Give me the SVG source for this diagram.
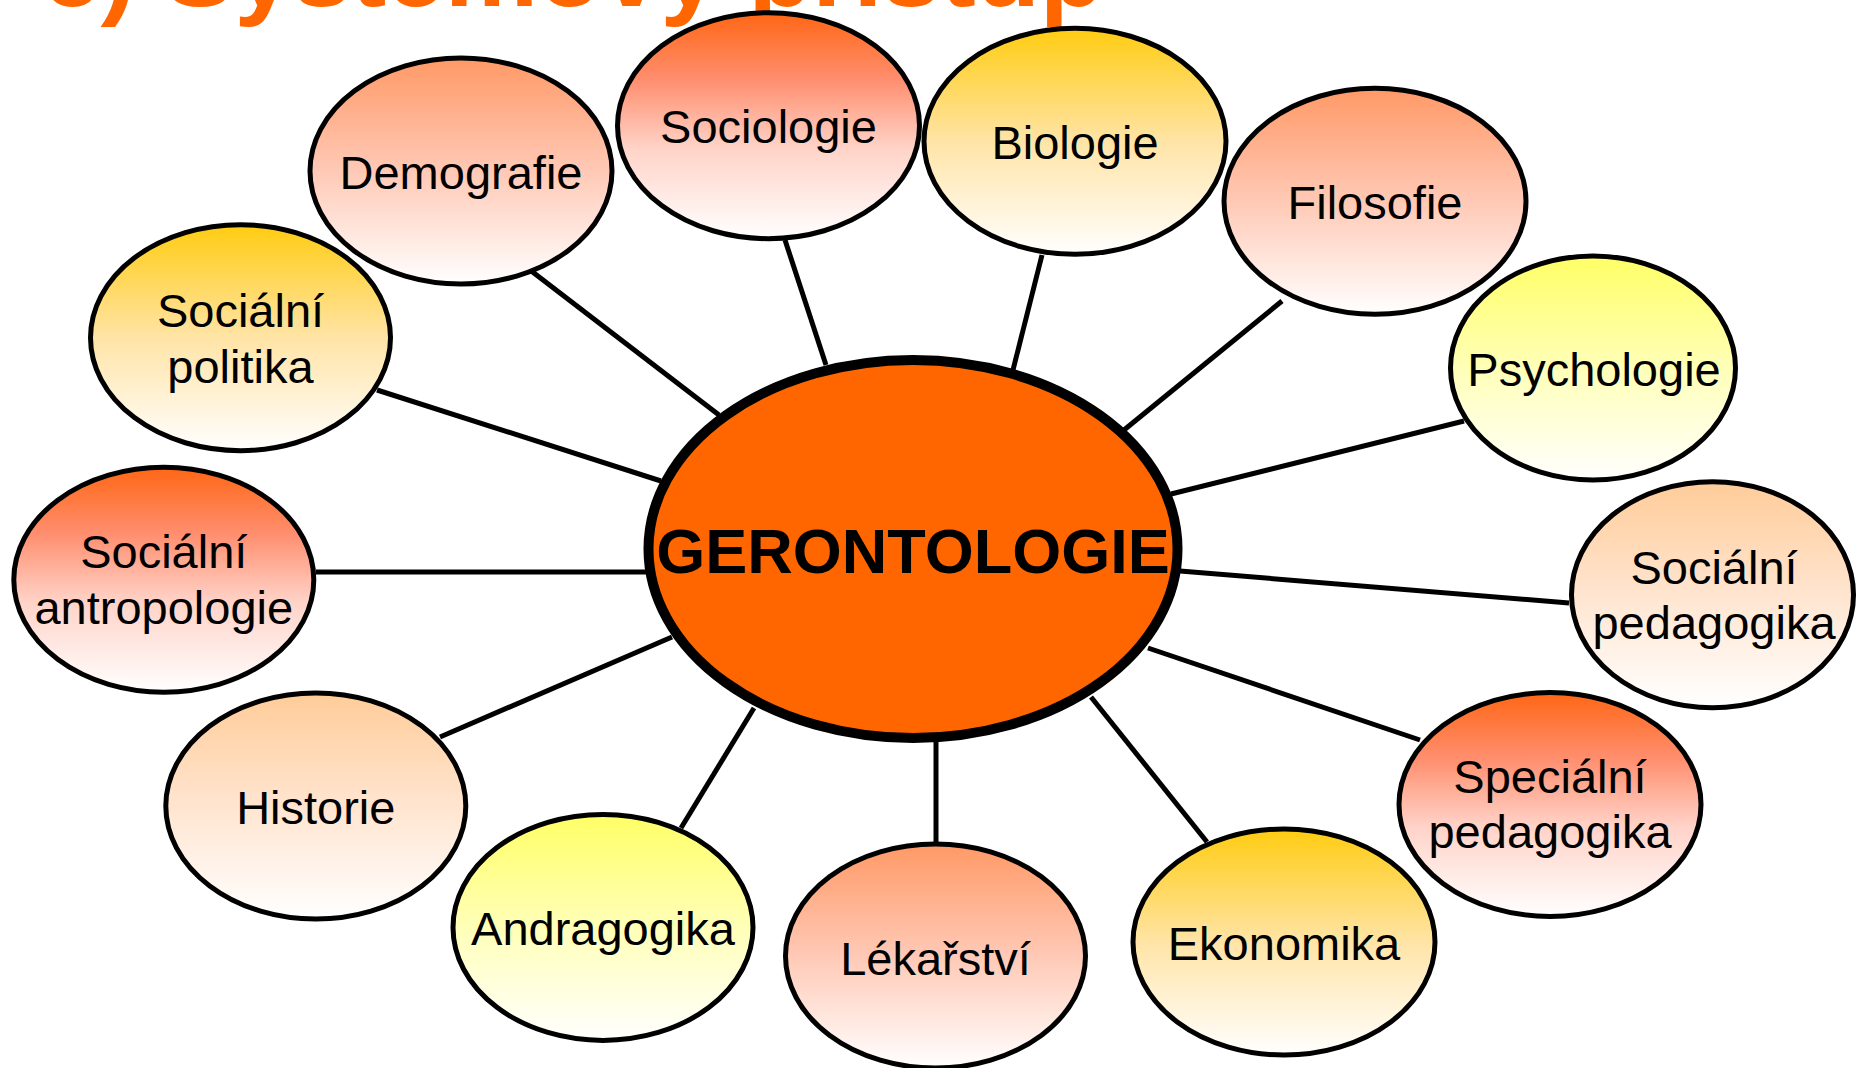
<svg xmlns="http://www.w3.org/2000/svg" width="1856" height="1068" viewBox="0 0 1856 1068">
<defs>
<linearGradient id="gRed" x1="0" y1="0" x2="0" y2="1">
<stop offset="0" stop-color="#FF6615"/><stop offset="0.3" stop-color="#FF8F70"/><stop offset="0.6" stop-color="#FFD3C8"/><stop offset="1" stop-color="#FFFFFF"/>
</linearGradient>
<linearGradient id="gSalmon" x1="0" y1="0" x2="0" y2="1">
<stop offset="0" stop-color="#FF9966"/><stop offset="0.5" stop-color="#FFC9B6"/><stop offset="1" stop-color="#FFFFFF"/>
</linearGradient>
<linearGradient id="gGold" x1="0" y1="0" x2="0" y2="1">
<stop offset="0" stop-color="#FFCC11"/><stop offset="0.5" stop-color="#FFE4A6"/><stop offset="1" stop-color="#FFFFFF"/>
</linearGradient>
<linearGradient id="gYellow" x1="0" y1="0" x2="0" y2="1">
<stop offset="0" stop-color="#FFFF66"/><stop offset="0.5" stop-color="#FFFFB8"/><stop offset="1" stop-color="#FFFFFF"/>
</linearGradient>
<linearGradient id="gPeach" x1="0" y1="0" x2="0" y2="1">
<stop offset="0" stop-color="#FFCC99"/><stop offset="0.5" stop-color="#FFE5D0"/><stop offset="1" stop-color="#FFFFFF"/>
</linearGradient>
</defs>
<style>
.node{stroke:#000;stroke-width:5}
.lbl{font-family:"Liberation Sans",Arial,sans-serif;font-size:47px;fill:#000;text-anchor:middle}
.conn line{stroke:#000;stroke-width:5}
.title{font-family:"Liberation Sans",Arial,sans-serif;font-weight:bold;font-size:100px;fill:#FF6600}
</style>
<text class="title" x="42" y="6" textLength="1062" lengthAdjust="spacingAndGlyphs">c) Systémový přístup</text>
<g id="connectors" class="conn">
<line x1="530" y1="270" x2="719" y2="415"/>
<line x1="785" y1="240" x2="826" y2="365"/>
<line x1="1042" y1="255" x2="1013" y2="370"/>
<line x1="1282" y1="301" x2="1124" y2="430"/>
<line x1="1464" y1="421" x2="1171" y2="494"/>
<line x1="1569" y1="603" x2="1180" y2="571"/>
<line x1="1420" y1="740" x2="1148" y2="648"/>
<line x1="1207" y1="842" x2="1091" y2="697"/>
<line x1="936" y1="843" x2="936" y2="740"/>
<line x1="681" y1="828" x2="754" y2="708"/>
<line x1="440" y1="737" x2="672" y2="637"/>
<line x1="316" y1="572" x2="646" y2="572"/>
<line x1="377" y1="390" x2="661" y2="481"/>
</g>
<g id="n-demografie"><ellipse class="node" cx="461" cy="171" rx="151" ry="113" fill="url(#gSalmon)"/><text class="lbl" x="461" y="189">Demografie</text></g>
<g id="n-sociologie"><ellipse class="node" cx="768.5" cy="125.7" rx="151" ry="113" fill="url(#gRed)"/><text class="lbl" x="768.5" y="143">Sociologie</text></g>
<g id="n-biologie"><ellipse class="node" cx="1075" cy="141.3" rx="151" ry="113" fill="url(#gGold)"/><text class="lbl" x="1075" y="158.5">Biologie</text></g>
<g id="n-filosofie"><ellipse class="node" cx="1375" cy="201.3" rx="151" ry="113" fill="url(#gSalmon)"/><text class="lbl" x="1375" y="219">Filosofie</text></g>
<g id="n-psychologie"><ellipse class="node" cx="1593" cy="368" rx="142.5" ry="112" fill="url(#gYellow)"/><text class="lbl" x="1594" y="385.5">Psychologie</text></g>
<g id="n-socialni-pedagogika"><ellipse class="node" cx="1712.5" cy="594.7" rx="141" ry="113" fill="url(#gPeach)"/><text class="lbl" x="1714" y="584">Sociální</text><text class="lbl" x="1714" y="639">pedagogika</text></g>
<g id="n-specialni-pedagogika"><ellipse class="node" cx="1550" cy="804.5" rx="151" ry="112" fill="url(#gRed)"/><text class="lbl" x="1550" y="793">Speciální</text><text class="lbl" x="1550" y="848">pedagogika</text></g>
<g id="n-ekonomika"><ellipse class="node" cx="1284" cy="942" rx="151" ry="113" fill="url(#gGold)"/><text class="lbl" x="1284" y="960">Ekonomika</text></g>
<g id="n-lekarstvi"><ellipse class="node" cx="935.5" cy="956" rx="150" ry="112" fill="url(#gSalmon)"/><text class="lbl" x="935.5" y="975">Lékařství</text></g>
<g id="n-andragogika"><ellipse class="node" cx="603" cy="927.4" rx="150" ry="113" fill="url(#gYellow)"/><text class="lbl" x="603" y="944.5">Andragogika</text></g>
<g id="n-historie"><ellipse class="node" cx="315.8" cy="806" rx="150" ry="113" fill="url(#gPeach)"/><text class="lbl" x="315.8" y="823.5">Historie</text></g>
<g id="n-socialni-antropologie"><ellipse class="node" cx="163.8" cy="579.7" rx="150" ry="112.5" fill="url(#gRed)"/><text class="lbl" x="163.8" y="567.5">Sociální</text><text class="lbl" x="163.8" y="623.5">antropologie</text></g>
<g id="n-socialni-politika"><ellipse class="node" cx="240.5" cy="337.7" rx="150" ry="113" fill="url(#gGold)"/><text class="lbl" x="240.5" y="326.5">Sociální</text><text class="lbl" x="240.5" y="383">politika</text></g>
<g id="n-gerontologie"><ellipse cx="913" cy="549" rx="264.5" ry="189" fill="#FF6600" stroke="#000" stroke-width="10"/><text x="913" y="573" text-anchor="middle" font-family="Liberation Sans, Arial, sans-serif" font-weight="bold" font-size="63" fill="#000">GERONTOLOGIE</text></g>
</svg>
